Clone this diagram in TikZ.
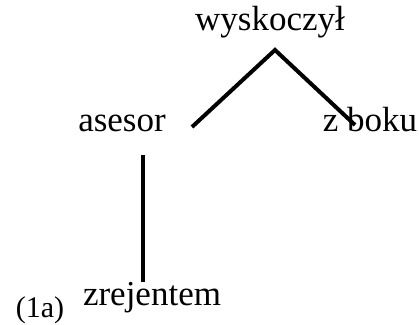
\documentclass[tikz,border=0pt]{standalone}
\usepackage{fontspec}
\setmainfont{Liberation Serif}
\usepackage{tikz}

\begin{document}
\begin{tikzpicture}[x=0.5pt, y=-0.5pt,
    word/.style={anchor=base, inner sep=0pt, font=\fontsize{17.5}{20}\selectfont},
    branch/.style={line width=2pt}]
          \useasboundingbox (0,0) rectangle (419,325);

          % Words
          \node[word] (wyskoczyl) at (270,31) {wyskoczył};
          \node[word] (asesor) at (122,132) {asesor};
          \node[word] (zboku) at (370,132) {z boku};
          \node[word] (zrejentem) at (152,306) {zrejentem};
          \node[anchor=base, inner sep=0pt, font=\fontsize{15}{17}\selectfont] (label) at (40,318) {(1a)};

          % Branch ends
          \coordinate (apex) at (275,50);
          \coordinate (leftend) at (192,127);
          \coordinate (rightend) at (355,125);
          \coordinate (stemtop) at (143,155);
          \coordinate (stembot) at (143,282);

          % Branches
          \draw[branch] (leftend) -- (apex) -- (rightend);
          \draw[branch] (stemtop) -- (stembot);
        \end{tikzpicture}
\end{document}
